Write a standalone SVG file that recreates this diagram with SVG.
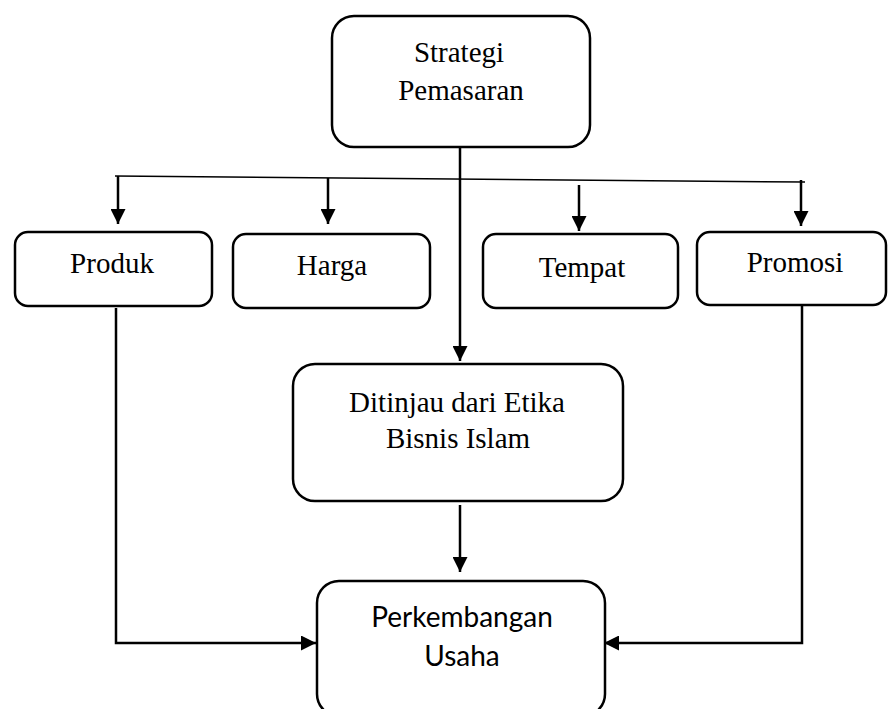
<svg xmlns="http://www.w3.org/2000/svg" width="888" height="709" viewBox="0 0 888 709">
<style>
.box{fill:#fff;stroke:#000;stroke-width:2.5}
.t{font-family:"Liberation Serif","Times New Roman",serif;font-size:29px;fill:#000;text-anchor:middle}
.s{font-family:Lato,"Liberation Sans",sans-serif;font-size:28px;fill:#000;text-anchor:middle}
.c{fill:none;stroke:#000;stroke-width:2.5}
.thin{fill:none;stroke:#000;stroke-width:1.5}
</style>
<defs>
<marker id="ah" viewBox="0 0 15 15" refX="15" refY="7.5" markerWidth="15" markerHeight="15" markerUnits="userSpaceOnUse" orient="auto">
<path d="M0,0 L15,7.5 L0,15 Z" fill="#000"/>
</marker>
</defs>
<rect width="888" height="709" fill="#fff"/>
<g id="connectors">
<line class="thin" x1="115" y1="176" x2="805" y2="182"/>
<line class="c" x1="118" y1="176" x2="118" y2="224" marker-end="url(#ah)"/>
<line class="c" x1="328" y1="178" x2="328" y2="224" marker-end="url(#ah)"/>
<line class="c" x1="579" y1="185" x2="579" y2="231" marker-end="url(#ah)"/>
<line class="c" x1="801" y1="180" x2="801" y2="226" marker-end="url(#ah)"/>
<line class="c" x1="460" y1="147" x2="460" y2="361" marker-end="url(#ah)"/>
<line class="c" x1="460" y1="505" x2="460" y2="572" marker-end="url(#ah)"/>
<polyline class="c" points="116,308 116,643 316,643" marker-end="url(#ah)"/>
<polyline class="c" points="802,306 802,643 604,643" marker-end="url(#ah)"/>
</g>
<g id="strategi">
<rect class="box" x="332" y="16" width="258" height="131" rx="22"/>
<text class="t" x="459" y="62">Strategi</text>
<text class="t" x="461" y="100">Pemasaran</text>
</g>
<g id="produk">
<rect class="box" x="15" y="232" width="197" height="74" rx="13"/>
<text class="t" x="112" y="273">Produk</text>
</g>
<g id="harga">
<rect class="box" x="233" y="234" width="197" height="74" rx="13"/>
<text class="t" x="332" y="275">Harga</text>
</g>
<g id="tempat">
<rect class="box" x="483" y="234" width="195" height="74" rx="13"/>
<text class="t" x="582" y="277">Tempat</text>
</g>
<g id="promosi">
<rect class="box" x="697" y="232" width="189" height="73" rx="13"/>
<text class="t" x="795" y="272">Promosi</text>
</g>
<g id="ditinjau">
<rect class="box" x="293" y="364" width="330" height="137" rx="22"/>
<text class="t" x="457" y="412">Ditinjau dari Etika</text>
<text class="t" x="458" y="448">Bisnis Islam</text>
</g>
<g id="perkembangan">
<rect class="box" x="317" y="581" width="288" height="135" rx="22"/>
<text class="s" x="462" y="627">Perkembangan</text>
<text class="s" x="462" y="666">Usaha</text>
</g>
</svg>
